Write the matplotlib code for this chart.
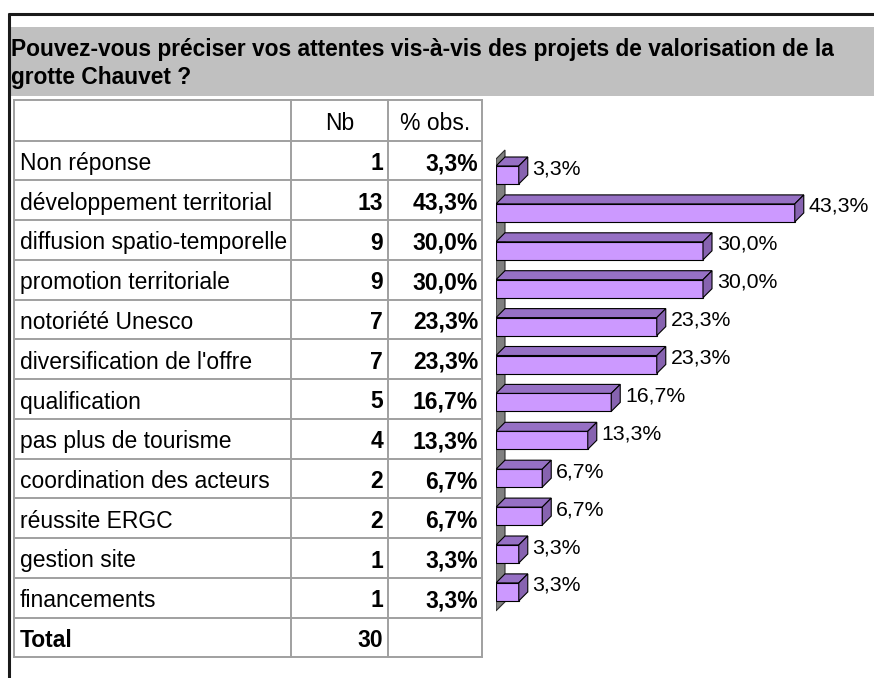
#!/usr/bin/env python
# survey table with 3d-looking horizontal bars
import matplotlib
matplotlib.use('Agg')
import matplotlib.pyplot as plt
from matplotlib.patches import Rectangle, Polygon

output_file = 'out.png'

title_lines = ['Pouvez-vous préciser vos attentes vis-à-vis des projets de valorisation de la',
               'grotte Chauvet ?']
categories = ['Non réponse', 'développement territorial', 'diffusion spatio-temporelle',
              'promotion territoriale', 'notoriété Unesco', "diversification de l'offre",
              'qualification', 'pas plus de tourisme', 'coordination des acteurs',
              'réussite ERGC', 'gestion site', 'financements']
counts = [1, 13, 9, 9, 7, 7, 5, 4, 2, 2, 1, 1]
percents = [3.3, 43.3, 30.0, 30.0, 23.3, 23.3, 16.7, 13.3, 6.7, 6.7, 3.3, 3.3]
total = 30
col_headers = ['Nb', '% obs.']

W, H = 874, 678
plt.rcParams['font.family'] = ['Liberation Sans', 'DejaVu Sans']
fs_title = 16.4
fs = 16.5
fs_bar = 15.3

fig = plt.figure(figsize=(W / 100.0, H / 100.0), dpi=100)
bg = fig.add_axes([0, 0, 1, 1])
bg.set_xlim(0, W)
bg.set_ylim(H, 0)
bg.axis('off')

def fmt(v):
  return ('%.1f%%' % v).replace('.', ',')

# frame + title band
bg.add_patch(Rectangle((10, 27), W - 10, 69, facecolor='#c0c0c0', edgecolor='none'))
bg.plot([8, W], [13.5, 13.5], color='#1a1a1a', lw=2.2, solid_capstyle='butt')
bg.plot([9, 9], [12.5, H], color='#1a1a1a', lw=2.2, solid_capstyle='butt')
for k, line in enumerate(title_lines):
  bg.text(11, 56 + 28 * k, line, fontsize=fs_title, fontweight='bold', va='baseline', ha='left')

# table
x_cols = [14, 291, 388, 482]
top = 100
head_h = 40.5
row_h = 39.75
n_rows = len(categories) + 1
bottom = top + head_h + n_rows * row_h
gc = '#a0a0a0'
for x in x_cols:
  bg.plot([x, x], [top, bottom], color=gc, lw=1.4)
bg.plot([x_cols[0], x_cols[-1]], [top, top], color=gc, lw=1.4)
for r in range(n_rows + 1):
  y = top + head_h + r * row_h
  bg.plot([x_cols[0], x_cols[-1]], [y, y], color=gc, lw=1.4)

bg.text((x_cols[1] + x_cols[2]) / 2.0, top + 29.5, col_headers[0], fontsize=fs, ha='center', va='baseline')
bg.text((x_cols[2] + x_cols[3]) / 2.0, top + 29.5, col_headers[1], fontsize=fs, ha='center', va='baseline')

rows = list(zip(categories, counts, percents)) + [('Total', total, None)]
for r, (name, n, p) in enumerate(rows):
  yb = top + head_h + r * row_h + 29.5
  bold = 'bold' if name == 'Total' else 'normal'
  bg.text(20, yb, name, fontsize=fs, fontweight=bold, ha='left', va='baseline')
  bg.text(x_cols[2] - 5, yb, str(n), fontsize=fs, fontweight='bold', ha='right', va='baseline')
  if p is not None:
    bg.text(x_cols[3] - 4, yb, fmt(p), fontsize=fs, fontweight='bold', ha='right', va='baseline')

# bar chart, value axis: 6.9 px per percent, rows 37.9 px apart
px_per_val = 6.9
px_per_row = 37.9
ax_left, ax_top, ax_bot = 496, 140, 620
xmax = 50
ax = fig.add_axes([ax_left / float(W), (H - ax_bot) / float(H),
                   xmax * px_per_val / W, (ax_bot - ax_top) / float(H)])
y0 = (ax_top - 175) / px_per_row
ax.set_xlim(0, xmax)
ax.set_ylim(y0 + (ax_bot - ax_top) / px_per_row, y0)
ax.axis('off')

dx = 9 / px_per_val
dy = 9 / px_per_row
bh = 18 / px_per_row
n = len(percents)

# left wall
wall_top = -16 / px_per_row
wall_bot = n - 0.5
ax.add_patch(Polygon([(0, wall_bot), (0, wall_top), (dx, wall_top - dy), (dx, wall_bot - dy)],
                     closed=True, facecolor='#808080', edgecolor='#303030', lw=0.8))

for i, v in enumerate(percents):
  yt = i - bh / 2
  ax.barh(i, v, height=bh, color='#cc99ff', edgecolor='black', linewidth=0.8)
  ax.add_patch(Polygon([(0, yt), (v, yt), (v + dx, yt - dy), (dx, yt - dy)],
                       closed=True, facecolor='#9670c4', edgecolor='black', lw=0.8))
  ax.add_patch(Polygon([(v, yt), (v + dx, yt - dy), (v + dx, yt - dy + bh), (v, yt + bh)],
                       closed=True, facecolor='#8763b0', edgecolor='black', lw=0.8))
  ax.text(v + dx + 0.7, yt + 8 / px_per_row, fmt(v), fontsize=fs_bar, ha='left', va='baseline')

plt.savefig(output_file, dpi=100)
print('Saved to', output_file)
